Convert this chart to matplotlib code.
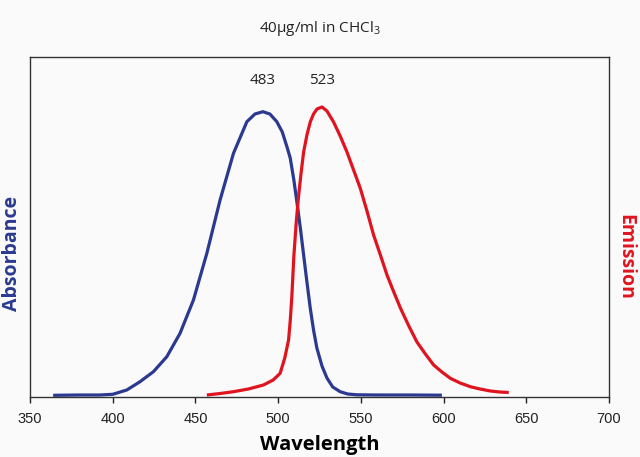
import matplotlib.pyplot as plt
import numpy as np

# absorbance curve (wavelength nm, relative height in px above the axis)
abs_nm = [364, 380, 392, 400, 408.5, 416.5, 424.6, 432.7, 440.7, 448.8, 456.9, 464.9, 473,
          481.1, 486, 490.8, 495, 499.2, 502.5, 505.3, 507.3, 509.5, 511.5, 513.5, 515.4,
          517.4, 519.4, 521.4, 523.4, 526.5, 529.5, 533, 537.5, 542, 547.6, 560, 580, 599]
abs_val = [0.7, 1, 1, 1.7, 6, 14.3, 24.3, 39.3, 62.7, 96, 142.7, 196, 242.7,
           274.3, 282, 284.3, 282, 274.3, 264, 249.3, 238, 216, 192, 167, 141,
           114, 88, 66, 48, 30, 18, 9, 4.3, 2, 1.2, 1, 1, 0.8]

# emission curve
em_nm = [456.9, 465, 473, 482, 491.1, 497, 501.2, 504, 506.3, 507.3, 508.3, 509.5, 511, 512.3,
         513.8, 515.4, 517.4, 519.4, 521.4, 523.5, 526.5, 529.5, 533.5, 537.5, 541.6, 545.6,
         549.6, 553.7, 557.7, 561.8, 565.8, 569.9, 573.9, 579, 583.9, 589, 594, 599, 604.1,
         610, 616.2, 622, 628.3, 634, 639.4]
em_val = [1, 2.5, 4.3, 7, 11, 16, 22.7, 38, 56, 75, 100, 140, 175, 199,
          222, 244, 261, 274, 282, 287, 289, 285, 274, 260, 244, 226,
          208, 185, 161, 141, 121, 104, 88, 70, 54, 42, 31, 24, 17.7,
          13, 9.3, 7, 5, 4, 3.5]

peak_labels = ['483', '523']
x_ticks = [350, 400, 450, 500, 550, 600, 650, 700]

blue = '#2b3990'
red = '#e0141f'

plt.rcParams['font.family'] = ['Open Sans', 'DejaVu Sans']

fig = plt.figure(figsize=(6.4, 4.57), dpi=100, facecolor='#fafafa')
ax = fig.add_axes([30/640, 1-397/457, 579/640, 340/457], facecolor='#fafafa')

ax.plot(abs_nm, abs_val, color=blue, lw=2.3, solid_capstyle='butt', solid_joinstyle='round')
ax.plot(em_nm, em_val, color=red, lw=2.3, solid_capstyle='butt', solid_joinstyle='round')

ax.set_xlim(350, 700)
ax.set_ylim(-1, 339)
ax.set_yticks([])
ax.set_xticks(x_ticks)
ax.set_xticklabels([str(t) for t in x_ticks], family='Liberation Sans', fontsize=10.5)
ax.tick_params(axis='x', direction='out', length=4, width=1, pad=7, colors='#222222')
for s in ax.spines.values():
    s.set_color('#333333')
    s.set_linewidth(1)

# peak labels
for nm, val, lab in [(abs_nm, abs_val, peak_labels[0]), (em_nm, em_val, peak_labels[1])]:
    i = int(np.argmax(val))
    ax.text(nm[i], 316, lab, ha='center', va='center', fontsize=11, color='#222222')

ax.set_xlabel('Wavelength', fontsize=14.5, fontweight='bold', labelpad=6)
fig.text(12/640, 1-253/457, 'Absorbance', rotation=90, ha='center', va='center',
         fontsize=14, fontweight='bold', color=blue)
fig.text(625/640, 1-257/457, 'Emission', rotation=270, ha='center', va='center',
         fontsize=14, fontweight='bold', color=red)
fig.text(320/640, 1-28/457, r'40µg/ml in CHCl$_\mathregular{3}$', ha='center', va='center',
         fontsize=11, color='#222222')

fig.savefig('out.png', dpi=100, facecolor=fig.get_facecolor())
